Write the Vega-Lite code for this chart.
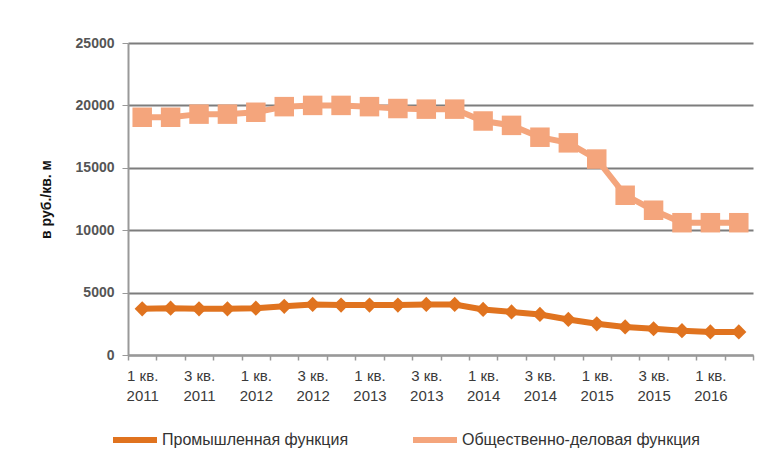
{
  "$schema": "https://vega.github.io/schema/vega-lite/v6.json",
  "autosize": "none",
  "width": 625,
  "height": 312,
  "padding": {"left": 128, "top": 43, "right": 20, "bottom": 106},
  "background": "white",
  "config": {
    "font": "Liberation Sans",
    "view": {"stroke": null},
    "axis": {"labelFont": "Liberation Sans", "titleFont": "Liberation Sans"},
    "legend": {"labelFont": "Liberation Sans"}
  },
  "data": {
    "values": [
      {"q": "1 кв. 2011", "series": "Промышленная функция", "value": 3700},
      {"q": "2 кв. 2011", "series": "Промышленная функция", "value": 3750},
      {"q": "3 кв. 2011", "series": "Промышленная функция", "value": 3700},
      {"q": "4 кв. 2011", "series": "Промышленная функция", "value": 3700},
      {"q": "1 кв. 2012", "series": "Промышленная функция", "value": 3750},
      {"q": "2 кв. 2012", "series": "Промышленная функция", "value": 3900},
      {"q": "3 кв. 2012", "series": "Промышленная функция", "value": 4050},
      {"q": "4 кв. 2012", "series": "Промышленная функция", "value": 4000},
      {"q": "1 кв. 2013", "series": "Промышленная функция", "value": 4000},
      {"q": "2 кв. 2013", "series": "Промышленная функция", "value": 4000},
      {"q": "3 кв. 2013", "series": "Промышленная функция", "value": 4050},
      {"q": "4 кв. 2013", "series": "Промышленная функция", "value": 4050},
      {"q": "1 кв. 2014", "series": "Промышленная функция", "value": 3650},
      {"q": "2 кв. 2014", "series": "Промышленная функция", "value": 3450},
      {"q": "3 кв. 2014", "series": "Промышленная функция", "value": 3250},
      {"q": "4 кв. 2014", "series": "Промышленная функция", "value": 2850},
      {"q": "1 кв. 2015", "series": "Промышленная функция", "value": 2500},
      {"q": "2 кв. 2015", "series": "Промышленная функция", "value": 2250},
      {"q": "3 кв. 2015", "series": "Промышленная функция", "value": 2100},
      {"q": "4 кв. 2015", "series": "Промышленная функция", "value": 1950},
      {"q": "1 кв. 2016", "series": "Промышленная функция", "value": 1850},
      {"q": "2 кв. 2016", "series": "Промышленная функция", "value": 1850},
      {"q": "1 кв. 2011", "series": "Общественно-деловая функция", "value": 19050},
      {"q": "2 кв. 2011", "series": "Общественно-деловая функция", "value": 19050},
      {"q": "3 кв. 2011", "series": "Общественно-деловая функция", "value": 19300},
      {"q": "4 кв. 2011", "series": "Общественно-деловая функция", "value": 19300},
      {"q": "1 кв. 2012", "series": "Общественно-деловая функция", "value": 19450},
      {"q": "2 кв. 2012", "series": "Общественно-деловая функция", "value": 19900},
      {"q": "3 кв. 2012", "series": "Общественно-деловая функция", "value": 20000},
      {"q": "4 кв. 2012", "series": "Общественно-деловая функция", "value": 20000},
      {"q": "1 кв. 2013", "series": "Общественно-деловая функция", "value": 19900},
      {"q": "2 кв. 2013", "series": "Общественно-деловая функция", "value": 19750},
      {"q": "3 кв. 2013", "series": "Общественно-деловая функция", "value": 19700},
      {"q": "4 кв. 2013", "series": "Общественно-деловая функция", "value": 19700},
      {"q": "1 кв. 2014", "series": "Общественно-деловая функция", "value": 18750},
      {"q": "2 кв. 2014", "series": "Общественно-деловая функция", "value": 18400},
      {"q": "3 кв. 2014", "series": "Общественно-деловая функция", "value": 17450},
      {"q": "4 кв. 2014", "series": "Общественно-деловая функция", "value": 17000},
      {"q": "1 кв. 2015", "series": "Общественно-деловая функция", "value": 15700},
      {"q": "2 кв. 2015", "series": "Общественно-деловая функция", "value": 12800},
      {"q": "3 кв. 2015", "series": "Общественно-деловая функция", "value": 11600},
      {"q": "4 кв. 2015", "series": "Общественно-деловая функция", "value": 10600},
      {"q": "1 кв. 2016", "series": "Общественно-деловая функция", "value": 10600},
      {"q": "2 кв. 2016", "series": "Общественно-деловая функция", "value": 10600}
    ]
  },
  "encoding": {
    "x": {
      "field": "q",
      "type": "nominal",
      "sort": null,
      "scale": {"type": "band", "paddingInner": 0, "paddingOuter": 0},
      "axis": {
        "title": null,
        "labelAngle": 0,
        "tickBand": "extent",
        "labelExpr": "test(/^[13] /, datum.value) ? [slice(datum.value, 0, 5), slice(datum.value, 6)] : ''",
        "labelFontSize": 15,
        "labelColor": "#3a3a3a",
        "labelLineHeight": 20,
        "labelPadding": 8,
        "labelBaseline": "top",
        "tickSize": 5,
        "tickColor": "#999",
        "domainColor": "#999",
        "domainWidth": 2,
        "tickWidth": 1.5,
        "grid": false
      }
    },
    "y": {
      "field": "value",
      "type": "quantitative",
      "scale": {"domain": [0, 25000]},
      "axis": {
        "title": "в руб./кв. м",
        "titleFontSize": 14,
        "titleFontWeight": "bold",
        "titleColor": "#111",
        "titlePadding": 22,
        "values": [0, 5000, 10000, 15000, 20000, 25000],
        "format": "d",
        "labelFontSize": 14,
        "labelFontWeight": "bold",
        "labelColor": "#555",
        "labelPadding": 8,
        "tickSize": 6,
        "tickColor": "#999",
        "domainColor": "#999",
        "domainWidth": 2,
        "gridColor": "#7d7d7d",
        "gridWidth": 2
      }
    },
    "color": {
      "field": "series",
      "type": "nominal",
      "scale": {
        "domain": ["Промышленная функция", "Общественно-деловая функция"],
        "range": ["#E0731F", "#F4A57C"]
      },
      "legend": {
        "title": null,
        "orient": "none",
        "legendX": -18,
        "legendY": 372,
        "direction": "horizontal",
        "symbolType": "stroke",
        "symbolSize": 1936,
        "symbolStrokeWidth": 6,
        "labelFontSize": 16,
        "labelLimit": 400,
        "labelColor": "#333",
        "labelOffset": 2,
        "columnPadding": 52
      }
    }
  },
  "layer": [
    {
      "mark": {"type": "line", "strokeWidth": 6}
    },
    {
      "transform": [{"filter": "datum.series === 'Промышленная функция'"}],
      "mark": {"type": "point", "filled": true, "opacity": 1, "shape": "diamond", "size": 230}
    },
    {
      "transform": [{"filter": "datum.series === 'Общественно-деловая функция'"}],
      "mark": {"type": "point", "filled": true, "opacity": 1, "shape": "square", "size": 380}
    }
  ]
}
